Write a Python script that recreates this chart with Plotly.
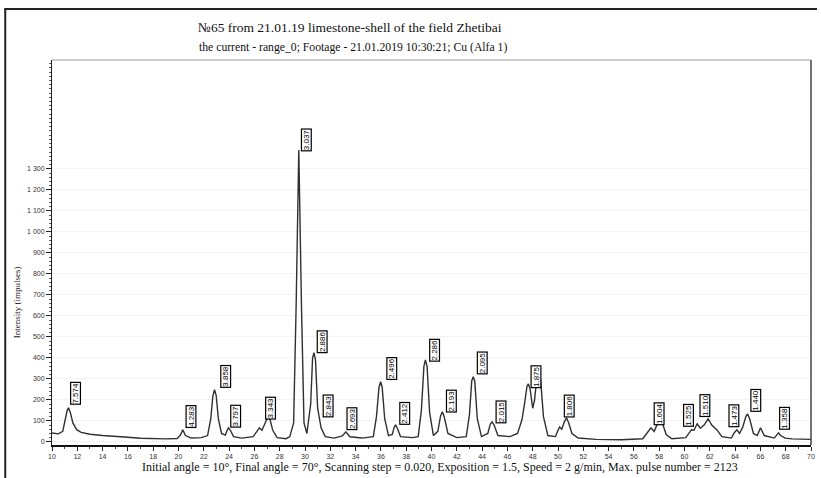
import plotly.graph_objects as go

# ---- pattern vertices (2-theta, intensity) ----
two_theta = [10.00, 10.50, 10.85, 11.05, 11.20, 11.30, 11.45, 11.65, 11.95, 12.30,
             13.00, 14.00, 15.00, 16.00, 17.00, 18.00, 19.00, 19.90, 20.15, 20.34,
             20.55, 21.00, 21.80, 22.30, 22.55, 22.72, 22.85, 22.98, 23.15, 23.40,
             23.70, 23.85, 23.95, 24.10, 24.35, 25.00, 25.90, 26.20, 26.39, 26.60,
             26.85, 27.00, 27.10, 27.22, 27.45, 27.80, 28.50, 28.80, 29.10, 29.30,
             29.51, 29.72, 29.92, 30.15, 30.45, 30.60, 30.71, 30.83, 31.00, 31.27,
             31.60, 32.30, 32.95, 33.23, 33.55, 34.50, 35.40, 35.65, 35.85, 35.98,
             36.10, 36.30, 36.60, 36.90, 37.05, 37.16, 37.30, 37.55, 38.50, 38.95,
             39.20, 39.40, 39.52, 39.65, 39.85, 40.15, 40.50, 40.72, 40.86, 41.00,
             41.30, 42.00, 42.75, 43.00, 43.18, 43.30, 43.42, 43.62, 43.95, 44.45,
             44.65, 44.79, 44.95, 45.25, 46.20, 46.80, 47.15, 47.35, 47.55, 47.66,
             47.80, 48.00, 48.15, 48.35, 48.48, 48.62, 48.85, 49.20, 49.80, 50.00,
             50.13, 50.30, 50.50, 50.68, 50.85, 51.10, 51.60, 53.00, 55.00, 56.70,
             57.05, 57.35, 57.60, 57.85, 58.06, 58.25, 58.55, 59.00, 60.10, 60.40,
             60.55, 60.75, 61.00, 61.25, 61.55, 61.87, 62.15, 62.57, 62.95, 63.70,
             63.95, 64.14, 64.35, 64.60, 64.85, 64.99, 65.15, 65.45, 65.75, 66.01,
             66.30, 67.10, 67.30, 67.43, 67.60, 67.95, 68.50, 70.00]
intensity = [42, 38, 50, 110, 150, 162, 140, 90, 58, 45,
             36, 30, 27, 22, 17, 15, 14, 16, 32, 57,
             30, 18, 20, 30, 110, 220, 248, 220, 110, 40,
             32, 55, 67, 55, 25, 18, 25, 50, 67, 55,
             90, 118, 124, 110, 55, 20, 15, 25, 90, 650,
             1390, 650, 90, 40, 180, 400, 424, 390, 160, 67,
             25, 18, 28, 48, 24, 18, 25, 120, 260, 286,
             260, 110, 30, 35, 70, 81, 65, 25, 20, 25,
             150, 360, 390, 360, 140, 30, 50, 125, 143, 120,
             40, 20, 25, 130, 290, 310, 290, 110, 25, 40,
             85, 95, 80, 30, 25, 40, 105, 180, 265, 276,
             250, 160, 200, 320, 333, 300, 120, 30, 25, 55,
             71, 60, 95, 114, 90, 40, 18, 12, 10, 15,
             40, 67, 50, 85, 114, 90, 35, 15, 20, 45,
             57, 55, 86, 65, 80, 110, 80, 57, 25, 18,
             45, 57, 40, 70, 120, 133, 110, 40, 30, 67,
             30, 18, 35, 43, 30, 18, 14, 12]

# ---- peak labels (d-spacings) ----
label_text = ["7.574", "4.283", "3.858", "3.797", "3.343", "3.037", "2.886", "2.843",
              "2.693", "2.496", "2.412", "2.286", "2.193", "2.095", "2.015", "1.875",
              "1.806", "1.604", "1.525", "1.510", "1.473", "1.440", "1.358"]
label_x = [11.85, 20.97, 23.72, 24.50, 27.26, 30.09, 31.34, 31.82,
           33.70, 36.85, 37.87, 40.23, 41.56, 44.00, 45.49, 48.25,
           50.88, 57.98, 60.31, 61.60, 63.90, 65.62, 67.90]
label_y = [176, 67, 257, 67, 105, 1381, 424, 114,
           57, 295, 81, 381, 138, 319, 90, 257,
           114, 81, 71, 119, 71, 143, 57]

x_ticks = list(range(10, 72, 2))
y_ticks = list(range(0, 1400, 100))
y_tick_text = ["0", "100", "200", "300", "400", "500", "600", "700", "800", "900",
               "1 000", "1 100", "1 200", "1 300"]

title1 = "№65 from 21.01.19 limestone-shell of the field Zhetibai"
title2 = "the current - range_0; Footage - 21.01.2019 10:30:21; Cu (Alfa 1)"
footer = ("Initial angle = 10°, Final angle = 70°, Scanning step = 0.020, Exposition = 1.5, "
          "Speed = 2 g/min, Max. pulse number = 2123")
y_title = "Intensity (impulses)"

SERIF = "Liberation Serif, Times New Roman, serif"
SANS = "Liberation Sans, Arial, sans-serif"

fig = go.Figure()
fig.add_trace(go.Scatter(x=two_theta, y=intensity, mode="lines",
                         line=dict(color="#303030", width=1.4),
                         hoverinfo="skip", showlegend=False))

for t, lx, ly in zip(label_text, label_x, label_y):
    fig.add_annotation(x=lx, y=ly, xref="x", yref="y", text=t, showarrow=False,
                       textangle=-90, xanchor="center", yanchor="bottom",
                       font=dict(family=SANS, size=8, color="#000"),
                       bgcolor="white", bordercolor="#000", borderwidth=1.2, borderpad=0)

L, R, T, B = 52, 6, 60, 33
W, H = 821, 478
pw, ph = W - L - R, H - T - B

def px(x):
    return (x - L) / pw

def py(y):
    return (H - B - y) / ph

def note(x, y, text, size, family=SERIF, angle=0, color="#111"):
    fig.add_annotation(x=px(x), y=py(y), xref="paper", yref="paper", text=text,
                       showarrow=False, xanchor="center", yanchor="middle",
                       textangle=angle, font=dict(family=family, size=size, color=color))

note(352, 27, title1, 13.5)
note(355, 47, title2, 11.7)
note(442, 467, footer, 12)
note(17, 302, y_title, 9, angle=-90, color="#222")

# outer window frame
fig.add_shape(type="line", xref="paper", yref="paper", x0=px(4), x1=px(821),
              y0=py(9), y1=py(9), line=dict(color="#222", width=2))
fig.add_shape(type="line", xref="paper", yref="paper", x0=px(5), x1=px(5),
              y0=py(9), y1=py(478), line=dict(color="#222", width=2))

fig.update_xaxes(range=[10, 70], tickmode="array", tickvals=x_ticks,
                 ticks="outside", ticklen=4, tickcolor="#222",
                 tickfont=dict(family=SANS, size=7, color="#333"),
                 showline=True, linecolor="#111", linewidth=2, mirror=False,
                 showgrid=False, zeroline=False,
                 minor=dict(dtick=1, ticks="outside", ticklen=2, tickcolor="#444"))
fig.update_yaxes(range=[-15, 1818], tickmode="array", tickvals=y_ticks, ticktext=y_tick_text,
                 ticks="outside", ticklen=5, tickcolor="#222",
                 tickfont=dict(family=SANS, size=7, color="#333"),
                 showline=True, linecolor="#222", linewidth=1,
                 showgrid=True, gridcolor="#f3f3f3", zeroline=False,
                 minor=dict(dtick=20, ticks="outside", ticklen=2, tickcolor="#555"))

# plot area top/right border (light)
fig.add_shape(type="line", xref="paper", yref="paper", x0=0, x1=1, y0=1, y1=1,
              line=dict(color="#9a9a9a", width=1))
fig.add_shape(type="line", xref="paper", yref="paper", x0=1, x1=1, y0=0, y1=1,
              line=dict(color="#444", width=1.5))

fig.update_layout(width=W, height=H, margin=dict(l=L, r=R, t=T, b=B),
                  paper_bgcolor="white", plot_bgcolor="white", showlegend=False)

fig.write_html("out.html", config={"displayModeBar": False},
               post_script="document.body.style.margin='0';document.body.style.overflow='hidden';")
